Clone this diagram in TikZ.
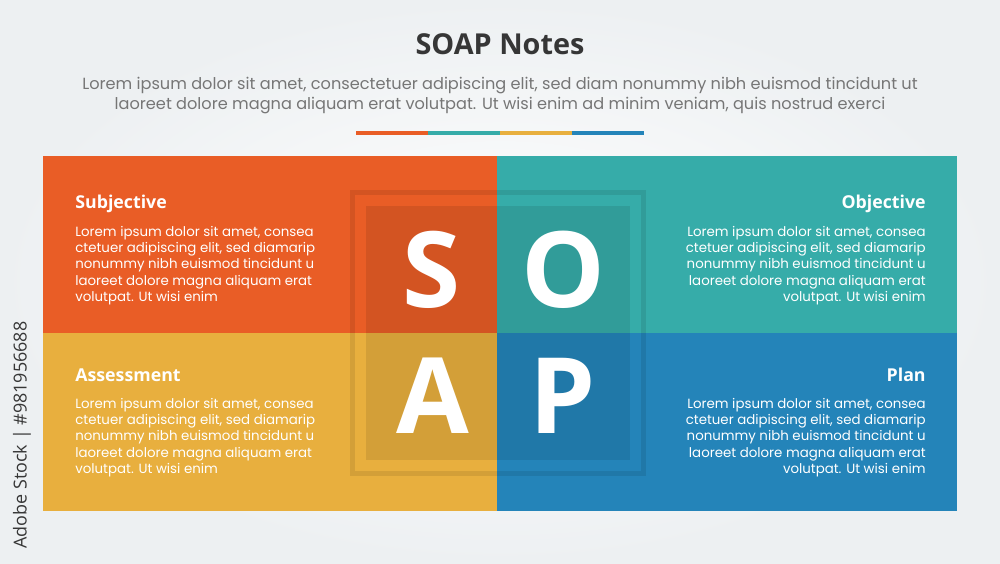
\documentclass[tikz,border=0pt]{standalone}
\usepackage{fontspec}
\setmainfont{Poppins}
\newfontfamily\headfont{Open Sans}
\usetikzlibrary{positioning}

\definecolor{bgcol}{HTML}{EDF0F2}
\definecolor{titlecol}{HTML}{363636}
\definecolor{subcol}{HTML}{767676}
\definecolor{colS}{HTML}{E95D26}
\definecolor{colO}{HTML}{36ACA9}
\definecolor{colA}{HTML}{E8AF3E}
\definecolor{colP}{HTML}{2484B9}

\tikzset{
  head/.style={font=\headfont\bfseries\fontsize{10.1}{12}\selectfont, text=white, inner sep=0pt},
  body/.style={font=\fontsize{7.6}{9.2}\selectfont, text=white, inner sep=0pt},
  letter/.style={font=\headfont\bfseries\fontsize{60}{60}\selectfont, text=white, inner sep=0pt, anchor=base},
  shadebox/.style={fill=black, fill opacity=0.09}
}

\begin{document}
\begin{tikzpicture}[x=0.2mm, y=-0.2mm]
            \shade[inner color=white, outer color=bgcol] (0,0) rectangle (1000,563);
            \useasboundingbox (0,0) rectangle (1000,563);

            \node[font=\headfont\bfseries\fontsize{16.4}{20}\selectfont, text=titlecol, anchor=base] (title) at (500,54) {SOAP Notes};
            \node[font=\fontsize{9.2}{11.3}\selectfont, text=subcol, align=center, anchor=north, inner sep=0pt] (subtitle) at (500,77)
                {Lorem ipsum dolor sit amet, consectetuer adipiscing elit, sed diam nonummy nibh euismod tincidunt ut\\
                 laoreet dolore magna aliquam erat volutpat. Ut wisi enim ad minim veniam, quis nostrud exerci};

            % colour bar under the title
            \fill[colS] (356,131) rectangle (428,135);
            \fill[colO] (428,131) rectangle (500,135);
            \fill[colA] (500,131) rectangle (572,135);
            \fill[colP] (572,131) rectangle (644,135);

            % four quadrants
            \fill[colS] (43,156) rectangle (497,333);
            \fill[colO] (497,156) rectangle (957,333);
            \fill[colA] (43,333) rectangle (497,511);
            \fill[colP] (497,333) rectangle (957,511);

            % centre frame
            \fill[shadebox] (366,206) rectangle (630,460);
            \draw[black, draw opacity=0.09, line width=2.8pt] (352.5,192.5) rectangle (643.5,473.5);

            \node[letter] (letS) at (432,307) {S};
            \node[letter] (letO) at (563,307) {O};
            \node[letter] (letA) at (433,433) {A};
            \node[letter] (letP) at (563,433) {P};

            \node[head, anchor=base west] (subj) at (75,208) {Subjective};
            \node[body, align=left, anchor=north west] (subjtxt) at (75,226)
                {Lorem ipsum dolor sit amet, consea\\ctetuer adipiscing elit, sed diamarip\\nonummy nibh euismod tincidunt u\\laoreet dolore magna aliquam erat\\volutpat. Ut wisi enim};

            \node[head, anchor=base east] (obj) at (926,208) {Objective};
            \node[body, align=right, anchor=north east] (objtxt) at (926,226)
                {Lorem ipsum dolor sit amet, consea\\ctetuer adipiscing elit, sed diamarip\\nonummy nibh euismod tincidunt u\\laoreet dolore magna aliquam erat\\volutpat. Ut wisi enim};

            \node[head, anchor=base west] (assess) at (75,381) {Assessment};
            \node[body, align=left, anchor=north west] (assesstxt) at (75,398)
                {Lorem ipsum dolor sit amet, consea\\ctetuer adipiscing elit, sed diamarip\\nonummy nibh euismod tincidunt u\\laoreet dolore magna aliquam erat\\volutpat. Ut wisi enim};

            \node[head, anchor=base east] (plan) at (926,381) {Plan};
            \node[body, align=right, anchor=north east] (plantxt) at (926,398)
                {Lorem ipsum dolor sit amet, consea\\ctetuer adipiscing elit, sed diamarip\\nonummy nibh euismod tincidunt u\\laoreet dolore magna aliquam erat\\volutpat. Ut wisi enim};

            \node[font=\headfont\fontsize{10.2}{11}\selectfont, text=titlecol, rotate=90, inner sep=0pt] (stock) at (22,435) {Adobe Stock | \#981956688};
\end{tikzpicture}
\end{document}
